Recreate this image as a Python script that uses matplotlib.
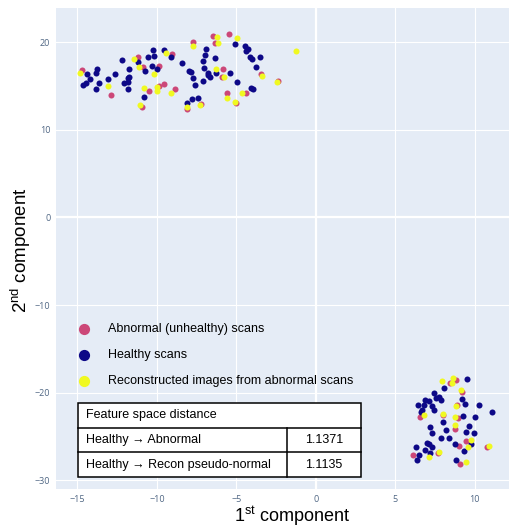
import matplotlib
matplotlib.use("Agg")
import matplotlib.pyplot as plt
from matplotlib.patches import Rectangle

plt.rcParams['font.family'] = ['Liberation Sans', 'DejaVu Sans']
plt.rcParams['mathtext.fontset'] = 'custom'
plt.rcParams['mathtext.rm'] = 'Liberation Sans'

# t-SNE embedding
abn_x = [-14.73, -11.16, -9.04, -10.89, -9.88, -12.87, -10.47, -9.58, -9.88, -8.83, -10.91,
         -6.47, -5.44, -7.75, -6.34, -5.84, -5.88, -3.42, -2.36, -5.58, -4.38, -7.25, -5.02, -8.11,
         8.84, 8.48, 9.22, 8.88, 6.59, 8.02, 8.93, 8.74, 9.45, 9.03, 10.80, 7.70, 6.15, 9.07]
abn_y = [16.80, 18.32, 18.70, 17.18, 17.30, 14.02, 14.48, 15.24, 14.98, 14.63, 12.58,
         20.72, 20.92, 20.04, 19.92, 16.91, 16.00, 16.42, 15.62, 14.18, 14.21, 12.96, 13.11, 12.36,
         -18.55, -18.93, -19.92, -21.40, -22.74, -22.58, -22.85, -24.15, -25.52, -26.08, -26.20,
         -26.88, -27.15, -28.14]

hea_x = [-10.26, -9.56, -10.57, -10.15, -9.08, -12.22, -11.19, -10.32, -9.99, -10.72, -13.75,
         -14.37, -13.86, -12.62, -11.73, -11.78, -11.84, -14.18, -13.06, -14.43, -13.63, -12.07,
         -11.82, -14.66, -13.84, -11.79, -10.78, -6.89, -5.06, -4.47, -4.26, -4.38, -6.99, -6.34,
         -7.12, -8.43, -4.11, -4.01, -3.50, -7.06, -7.97, -7.86, -6.77, -6.80, -6.64, -6.26, -5.41,
         -3.77, -7.75, -7.08, -7.59, -4.97, -4.05, -3.96, -8.11, -7.80, -7.44,
         9.53, 8.08, 7.43, 7.60, 7.76, 7.87, 6.90, 7.11, 9.18, 6.42, 6.84, 7.32, 9.41, 10.27,
         6.67, 6.63, 7.43, 11.07, 9.28, 10.02, 8.02, 7.18, 9.68, 7.32, 8.19, 9.47, 9.97, 7.87,
         8.38, 7.01, 7.16, 7.32, 8.74, 9.75, 6.31, 6.88, 9.31, 6.53, 7.20, 6.37, 8.86]
hea_y = [19.12, 19.12, 18.29, 18.44, 18.29, 17.94, 17.72, 17.33, 16.98, 16.73, 16.95,
         16.35, 16.46, 16.35, 16.95, 16.07, 15.89, 15.84, 15.84, 15.39, 15.39, 15.36,
         15.51, 15.13, 14.67, 14.70, 13.72, 19.27, 19.84, 19.58, 19.27, 19.04, 18.52, 18.17,
         17.86, 17.68, 18.29, 18.06, 18.32, 17.10, 16.76, 16.61, 16.53, 16.27, 16.00, 16.46, 16.53,
         17.21, 15.96, 15.62, 15.16, 15.51, 14.81, 14.63, 13.11, 13.49, 13.60,
         -18.40, -19.46, -20.07, -20.60, -20.49, -20.80, -20.80, -20.92, -20.72, -21.43, -21.43,
         -21.48, -21.32, -21.37, -22.01, -22.24, -22.01, -22.17, -22.66, -22.81, -23.35, -23.88,
         -23.83, -24.61, -24.23, -24.46, -24.61, -25.17, -25.17, -25.70, -25.85, -26.20, -25.89,
         -25.82, -26.16, -26.58, -26.69, -27.08, -26.91, -27.65, -27.65]

rec_x = [-14.85, -11.46, -9.42, -11.14, -10.20, -13.08, -10.78, -9.96, -9.96, -9.10, -11.04,
         -6.20, -4.93, -7.71, -6.13, -1.24, -6.30, -5.77, -3.35, -2.41, -5.58, -4.64, -7.27, -5.10,
         -8.11,
         7.93, 8.63, 8.57, 9.12, 8.86, 6.82, 8.04, 8.80, 8.80, 9.79, 9.62, 10.88, 7.76, 7.16, 9.49]
rec_y = [16.46, 18.06, 18.82, 17.21, 16.35, 15.01, 14.81, 14.86, 14.41, 14.25, 12.81,
         20.61, 20.49, 19.58, 19.89, 19.00, 16.98, 16.07, 16.19, 15.51, 13.67, 14.21, 12.84, 13.19,
         12.61,
         -18.63, -18.32, -18.93, -19.73, -21.52, -22.58, -22.39, -22.77, -23.68, -25.44, -26.16,
         -26.05, -26.74, -27.38, -27.88]

legend_labels = ["Abnormal (unhealthy) scans", "Healthy scans",
                 "Reconstructed images from abnormal scans"]
colors = ["#cc4778", "#0d0887", "#f0f921"]

table_rows = [["Healthy \u2192 Abnormal", "1.1371"],
              ["Healthy \u2192 Recon pseudo-normal", "1.1135"]]
table_title = "Feature space distance"

fig = plt.figure(figsize=(5.09, 5.27), dpi=100)
ax = fig.add_axes([0.110, 0.0715, 0.890, 0.9128])
ax.set_facecolor("#e5ecf6")

ax.scatter(abn_x, abn_y, s=19, c=colors[0], linewidths=0, zorder=3)
ax.scatter(hea_x, hea_y, s=19, c=colors[1], linewidths=0, zorder=3)
ax.scatter(rec_x, rec_y, s=19, c=colors[2], linewidths=0, zorder=3)

ax.set_xlim(-16.35, 12.17)
ax.set_ylim(-31.03, 23.88)
ax.set_xticks([-15, -10, -5, 0, 5, 10])
ax.set_yticks([-30, -20, -10, 0, 10, 20])
ax.grid(True, color="white", linewidth=0.8, zorder=0)
ax.axhline(0, color="white", linewidth=1.6, zorder=1)
ax.axvline(0, color="white", linewidth=1.6, zorder=1)
ax.set_axisbelow(True)
for s in ax.spines.values():
    s.set_visible(False)
ax.tick_params(length=0, labelsize=6.5, labelcolor="#506784", pad=4)
for lab in ax.get_xticklabels() + ax.get_yticklabels():
    lab.set_family("Open Sans")

# axis titles placed by hand so they stay inside the figure
fig.text(0.574, 0.0105, r"1$^{\mathrm{st}}$ component", fontsize=13, ha="center", va="baseline")
fig.text(0.040, 0.526, r"2$^{\mathrm{nd}}$ component", fontsize=13.5, ha="center", va="center",
         rotation=90)

# legend drawn by hand
leg_y = [0.333, 0.279, 0.225]
for lab, col, yy in zip(legend_labels, colors, leg_y):
    ax.scatter([0.0618], [yy], s=65, c=col, linewidths=0, transform=ax.transAxes, zorder=4)
    ax.text(0.114, yy, lab, transform=ax.transAxes, fontsize=9, va="center", ha="left", zorder=4)

# feature distance table
tl, tr, tb, tt = 0.049, 0.673, 0.026, 0.179
tc = 0.5106
rh = (tt - tb) / 3
ax.add_patch(Rectangle((tl, tb), tr - tl, tt - tb, transform=ax.transAxes,
                       facecolor="white", edgecolor="black", linewidth=1.1, zorder=5))
for k in (1, 2):
    ax.plot([tl, tr], [tt - k * rh, tt - k * rh], color="black", linewidth=1.1,
            transform=ax.transAxes, zorder=6)
ax.plot([tc, tc], [tb, tb + 2 * rh], color="black", linewidth=1.1,
        transform=ax.transAxes, zorder=6)
ax.text(tl + 0.018, tt - rh / 2, table_title, transform=ax.transAxes, fontsize=9,
        va="center", ha="left", zorder=7)
for i, (name, val) in enumerate(table_rows):
    yc = tt - (i + 1.5) * rh
    ax.text(tl + 0.018, yc, name, transform=ax.transAxes, fontsize=9,
            va="center", ha="left", zorder=7)
    ax.text((tc + tr) / 2, yc, val, transform=ax.transAxes, fontsize=9,
            va="center", ha="center", zorder=7)

fig.savefig("out.png", dpi=100)
